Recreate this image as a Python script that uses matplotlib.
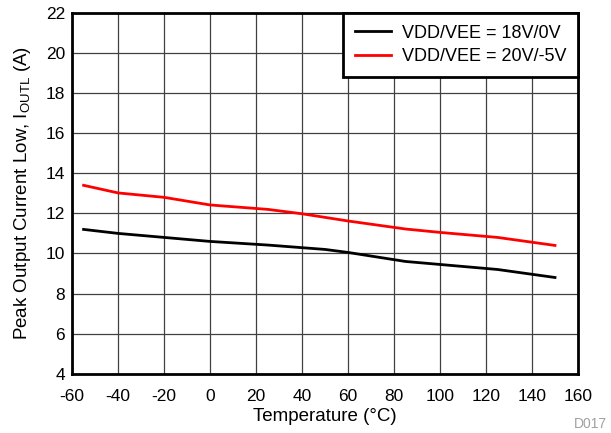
import numpy as np
import matplotlib.pyplot as plt

plt.rcParams['font.family'] = ['Liberation Sans', 'DejaVu Sans']
plt.rcParams['axes.unicode_minus'] = False

# data
temp_18 = [-55, -40, -20, 0, 25, 50, 60, 85, 100, 125, 150]
iout_18 = [11.2, 11.0, 10.8, 10.6, 10.42, 10.2, 10.05, 9.6, 9.45, 9.2, 8.8]
temp_20 = [-55, -40, -20, 0, 25, 40, 50, 60, 85, 100, 125, 150]
iout_20 = [13.4, 13.02, 12.8, 12.42, 12.2, 11.98, 11.8, 11.62, 11.22, 11.05, 10.8, 10.4]
labels = ['VDD/VEE = 18V/0V', 'VDD/VEE = 20V/-5V']

fig = plt.figure(figsize=(6.11, 4.33), dpi=100)
ax = fig.add_axes([0.118, 0.137, 0.828, 0.833])

ax.plot(temp_18, iout_18, color='black', lw=2, label=labels[0])
ax.plot(temp_20, iout_20, color='red', lw=2, label=labels[1])

ax.set_xlim(-60, 160)
ax.set_ylim(4, 22)
ax.set_xticks(np.arange(-60, 161, 20))
ax.set_yticks(np.arange(4, 23, 2))
ax.grid(True, color='#404040', lw=0.9)
ax.tick_params(length=0, labelsize=12.5)
ax.tick_params(axis='x', pad=11)
ax.tick_params(axis='y', pad=5)
for s in ax.spines.values():
    s.set_linewidth(2)

ax.set_xlabel('Temperature (°C)', fontsize=13.5, labelpad=3)
ax.set_ylabel('Peak Output Current Low, I$_{\\mathregular{OUTL}}$ (A)', fontsize=13.5, labelpad=9)

leg = ax.legend(loc='upper right', fontsize=13, fancybox=False, framealpha=1,
                edgecolor='black', borderaxespad=0, handlelength=2.0,
                borderpad=0.65, labelspacing=0.35, handletextpad=0.6)
leg.get_frame().set_linewidth(2)

fig.text(0.994, 0.004, 'D017', color='#a0a0a0', fontsize=10, ha='right', va='bottom')

fig.savefig('out.png', dpi=100)
